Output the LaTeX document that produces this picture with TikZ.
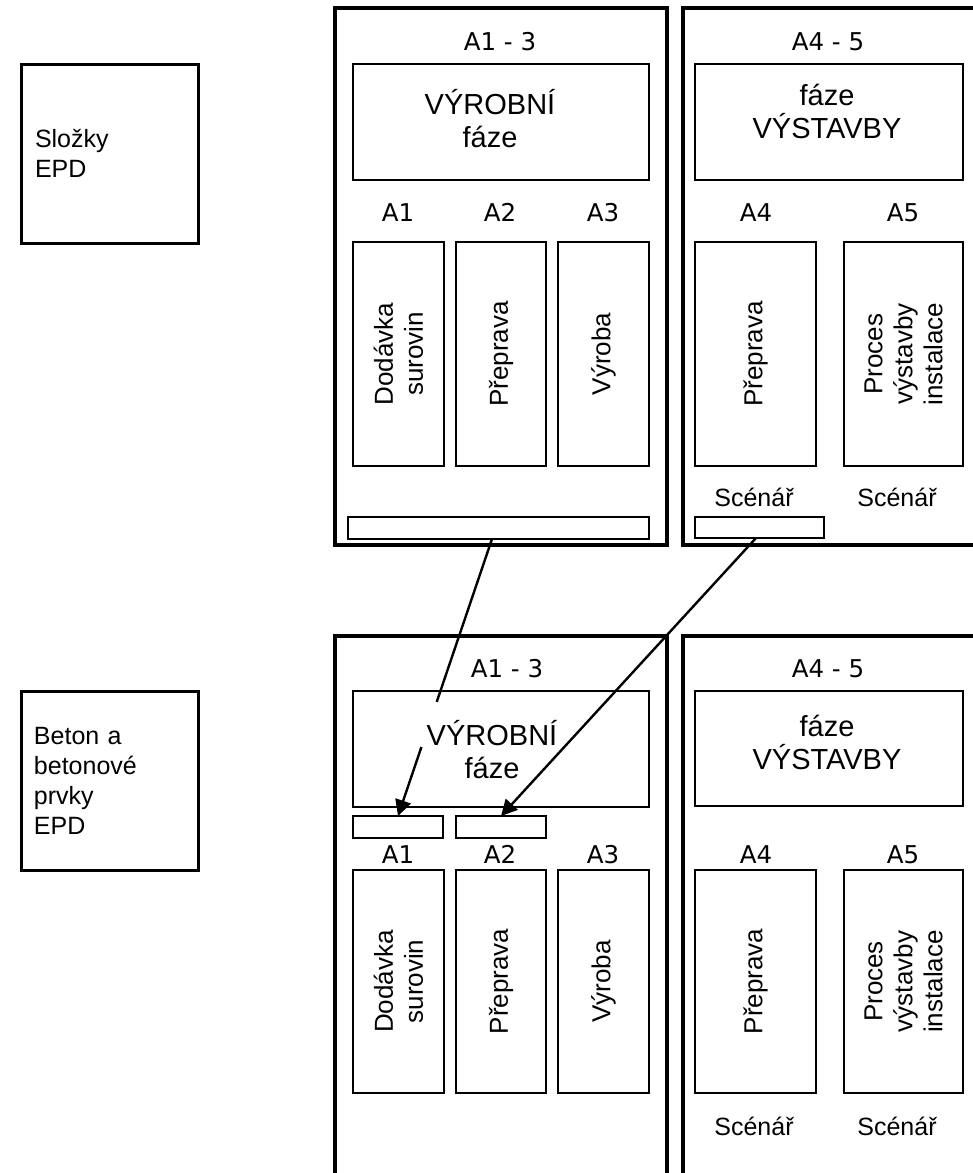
\documentclass[tikz,border=0pt]{standalone}
\usepackage{fontspec}
\setmainfont{Liberation Sans}
\newfontfamily\labfont{DejaVu Sans}
\usetikzlibrary{arrows.meta,calc}
\tikzset{
 outerbox/.style={draw, line width=3.8pt, inner sep=0pt, outer sep=0pt},
 innerbox/.style={draw, line width=2.6pt, inner sep=0pt, outer sep=0pt},
 sidebox/.style={draw, line width=3pt, inner sep=0pt, outer sep=0pt, align=left, font=\fontsize{25pt}{30pt}\selectfont},
 alab/.style={font=\labfont\fontsize{24.5pt}{28pt}\selectfont, inner sep=0pt, anchor=base},
 phase/.style={font=\fontsize{29pt}{33pt}\selectfont, align=center, inner sep=0pt},
 col/.style={innerbox, rotate=90, align=center, font=\fontsize{26pt}{30pt}\selectfont},
 scen/.style={font=\fontsize{25pt}{30pt}\selectfont, inner sep=0pt, anchor=base},
 conn/.style={line width=2.4pt},
 arr/.style={line width=2.4pt, -{Triangle[length=16pt,width=16pt]}},
}
\begin{document}
\begin{tikzpicture}[x=1pt,y=-1pt]
\useasboundingbox (0,0) rectangle (973,1173);
\fill[white] (0,0) rectangle (973,1173);

% side labels
\node[sidebox, minimum width=177pt, minimum height=179pt, text width=149pt] (slozky) at (109.5,153.5) {Složky\\EPD};
\node[sidebox, minimum width=177pt, minimum height=179pt, text width=151pt] (beton) at (109.5,780.5) {Beton a\\betonové\\prvky\\EPD};

% ===== top section =====
\node[outerbox, minimum width=332pt, minimum height=537pt] (o1) at (501,276.5) {};
\node[outerbox, minimum width=310pt, minimum height=537pt] (o2) at (838,276.5) {};
\node[alab] (t13) at (500,50) {A1 - 3};
\node[alab] (t45) at (828,50) {A4 - 5};

\node[innerbox, minimum width=296pt, minimum height=116pt] (vyr1) at (501,122) {};
\node[phase] (vyr1t) at (490,119) {VÝROBNÍ\\fáze};
\node[innerbox, minimum width=268pt, minimum height=116pt] (vys1) at (829,122) {};
\node[phase] (vys1t) at (827,111) {fáze\\VÝSTAVBY};

\node[alab] (ta1) at (398,221) {A1};
\node[alab] (ta2) at (500,221) {A2};
\node[alab] (ta3) at (603,221) {A3};
\node[alab] (ta4) at (756,221) {A4};
\node[alab] (ta5) at (903,221) {A5};

\node[col, minimum width=224pt, minimum height=91pt] (c1) at (398.5,354) {Dodávka\\surovin};
\node[col, minimum width=224pt, minimum height=90pt] (c2) at (501,354) {Přeprava};
\node[col, minimum width=224pt, minimum height=91pt] (c3) at (603.5,354) {Výroba};
\node[col, minimum width=224pt, minimum height=121pt] (c4) at (755.5,354) {Přeprava};
\node[col, minimum width=224pt, minimum height=119pt] (c5) at (903.5,354) {Proces\\výstavby\\instalace};

\node[scen] (sc1) at (754,506) {Scénář};
\node[scen] (sc2) at (897,506) {Scénář};

\node[innerbox, minimum width=301pt, minimum height=22pt] (bar1) at (498.5,528) {};
\node[innerbox, minimum width=129pt, minimum height=21pt] (bar2) at (759.5,527.5) {};

% ===== bottom section =====
\node[outerbox, minimum width=332pt, minimum height=580pt] (o3) at (501,926) {};
\node[outerbox, minimum width=310pt, minimum height=580pt] (o4) at (838,926) {};
\node[alab] (b13) at (507,677) {A1 - 3};
\node[alab] (b45) at (828,677) {A4 - 5};

\node[innerbox, minimum width=296pt, minimum height=116pt] (vyr2) at (501,749) {};
\node[phase] (vyr2t) at (492,750) {VÝROBNÍ\\fáze};
\node[innerbox, minimum width=268pt, minimum height=115pt] (vys2) at (829,748.5) {};
\node[phase] (vys2t) at (827,742) {fáze\\VÝSTAVBY};

\node[innerbox, minimum width=90pt, minimum height=22pt] (s1) at (398,827) {};
\node[innerbox, minimum width=90pt, minimum height=22pt] (s2) at (501,827) {};

\node[alab] (ba1) at (398,863) {A1};
\node[alab] (ba2) at (500,863) {A2};
\node[alab] (ba3) at (603,863) {A3};
\node[alab] (ba4) at (756,863) {A4};
\node[alab] (ba5) at (903,863) {A5};

\node[col, minimum width=223pt, minimum height=91pt] (d1) at (398.5,981.5) {Dodávka\\surovin};
\node[col, minimum width=223pt, minimum height=90pt] (d2) at (501,981.5) {Přeprava};
\node[col, minimum width=223pt, minimum height=91pt] (d3) at (603.5,981.5) {Výroba};
\node[col, minimum width=223pt, minimum height=121pt] (d4) at (755.5,981.5) {Přeprava};
\node[col, minimum width=223pt, minimum height=119pt] (d5) at (903.5,981.5) {Proces\\výstavby\\instalace};

\node[scen] (bs1) at (754,1135) {Scénář};
\node[scen] (bs2) at (897,1135) {Scénář};

% ===== connectors =====
\coordinate (p1) at ($(bar1.south)+(-6.5,0)$);
\draw[conn] (p1) -- ($(p1)!0.588!(s1.north)$);
\draw[arr] ($(p1)!0.751!(s1.north)$) -- (s1.north);
\draw[arr] ($(bar2.south)+(-3.5,0)$) -- (s2.north);
\end{tikzpicture}
\end{document}
